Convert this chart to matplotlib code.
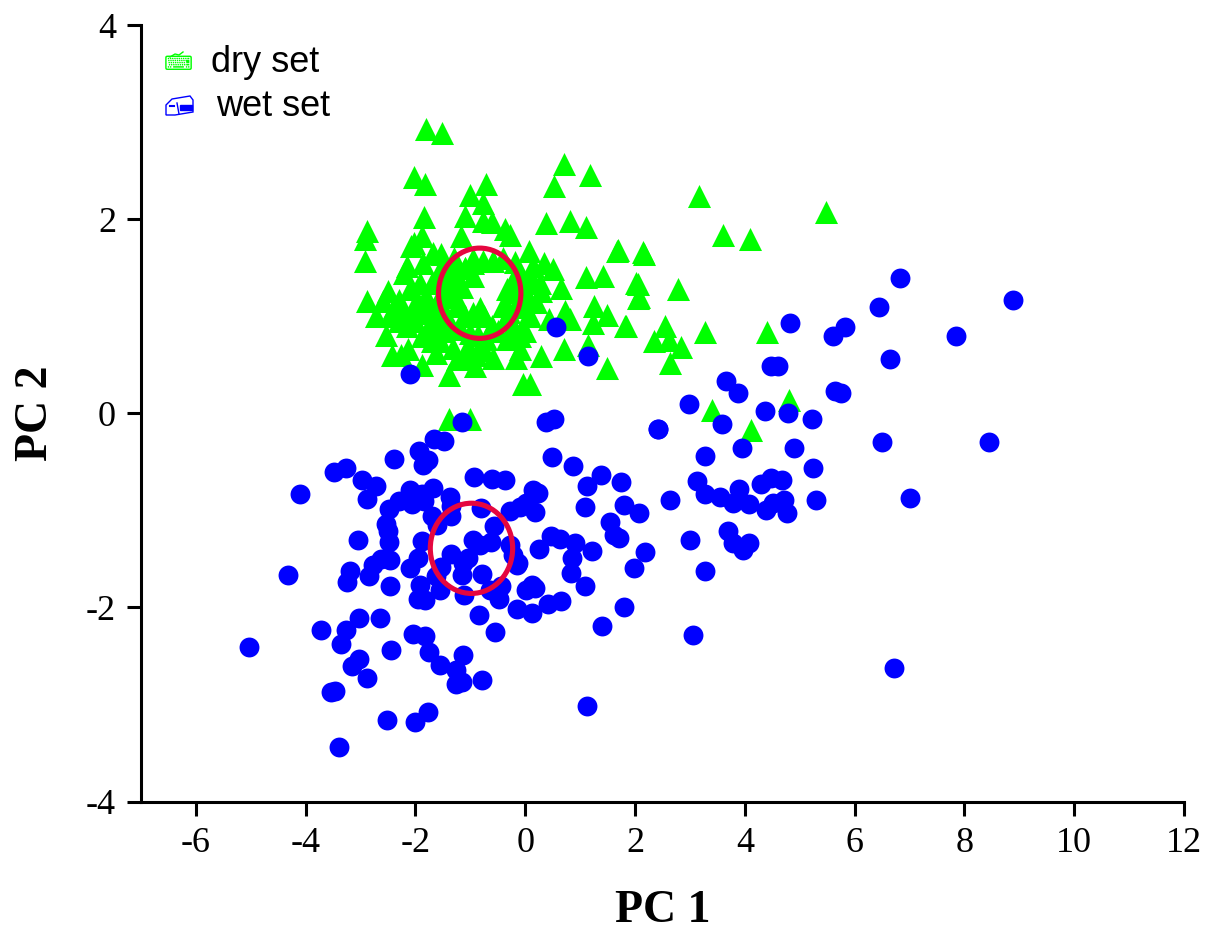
import matplotlib
matplotlib.use("Agg")
import matplotlib.pyplot as plt
from matplotlib.lines import Line2D
from matplotlib.patches import Ellipse, Polygon, Rectangle

plt.rcParams['axes.unicode_minus'] = False
plt.rcParams['font.family'] = ['Liberation Serif', 'DejaVu Serif']

# dry set (PC 1, PC 2)
dry_x = [-1.81, -1.52, 0.706, 1.18, 0.52, -2.03, -1.83, -0.71, -1.01, -0.77, -1.84, -1.10, -0.77, -0.6,
         -0.375, -0.28, 0.378, 0.81, 1.1, -2.88, -2.92, -2.92, -1.17, -1.89, -2.03, -2.09, 1.69, 0.07,
         2.14, -1.68, -1.53, 0.505, 0.335, 0.14, -0.18, -0.405, -0.59, -0.77, -0.95, 1.11, 1.415, 0.66,
         2.02, 2.05, -2.15, -2.2, -1.86, -1.56, -1.25, -0.95, -0.34, -0.41, 0.26, 0.29, 0.02, -0.04,
         0.08, -0.83, -0.95, -1.25, -1.285, -2.89, -2.5, -2.59, -2.71, -2.47, -2.3, -2.1, -1.92, -1.8,
         -1.98, -1.68, -1.86, -2.16, -2.53, -1.89, -1.65, -1.44, -1.315, -1.01, -0.86, -0.34, -0.22,
         0.05, 0.44, 0.72, 0.81, 1.26, 1.48, 1.23, 1.81, 0.7, 1.14, 1.49, 0.28, -0.1, -0.16, -0.59,
         -0.71, -0.34, -1.04, -1.315, -1.62, -1.04, -1.25, -0.92, -1.39, -2.13, -2.26, -2.43, -1.89,
         -0.04, 0.08, 3.16, 5.47, 3.61, 4.1, 1.68, 2.16, 2.05, 2.07, 2.78, 1.83, 2.54, 3.28, 4.41,
         2.34, 2.61, 2.83, 2.63, 4.81, 3.41, 4.12, -1.39, -1.01, -1.4, -1.5, -1.6, -1.75, -1.45, -1.1,
         -1.15, -0.2, -0.1, -0.3, -0.2, -1.55, -2.0, -1.7, -1.55, -1.2, -0.6,
         -2.4, -2.2, -2.0, -1.8, -1.6, -1.4, -1.7, -1.5, -2.0, -1.75, -1.5, -1.35, -1.2, -1.1, -0.75,
         0.2, 0.15, -0.1, -0.2, -0.15, 0.1, -0.5, -0.75, -0.9, 0.0, -0.1, -2.3, -1.1, -0.95, -1.3]
dry_y = [2.935, 2.89, 2.574, 2.46, 2.344, 2.44, 2.37, 2.364, 2.254, 2.17, 2.027, 2.034, 1.983, 1.972,
         1.907, 1.845, 1.966, 1.98, 1.924, 1.88, 1.794, 1.577, 1.835, 1.835, 1.76, 1.73, 1.69, 1.674,
         1.66, 1.656, 1.64, 1.49, 1.553, 1.52, 1.56, 1.605, 1.57, 1.57, 1.59, 1.405, 1.416, 1.295,
         1.347, 1.19, 1.52, 1.45, 1.553, 1.484, 1.416, 1.416, 1.28, 1.107, 1.347, 1.26, 1.244, 1.107,
         1.003, 1.09, 1.04, 1.107, 1.21, 1.158, 1.26, 1.158, 1.003, 1.003, 1.175, 1.28, 1.347, 1.21,
         1.175, 1.07, 1.04, 0.9, 0.814, 0.797, 0.883, 1.003, 0.866, 0.83, 0.814, 0.986, 0.9,
         1.0, 0.97, 1.055, 0.97, 1.106, 1.02, 0.935, 0.9, 0.66, 0.71, 0.47, 0.59, 0.66, 0.574, 0.574,
         0.763, 0.763, 0.694, 0.677, 0.625, 0.574, 0.557, 0.488, 0.392, 0.66, 0.608, 0.6, 0.495,
         0.299, 0.299, 2.24, 2.08, 1.845, 1.80, 1.68, 1.64, 1.33, 1.2, 1.28, 0.9, 0.9, 0.845, 0.845,
         0.75, 0.76, 0.69, 0.525, 0.14, 0.04, -0.165, -0.06, -0.06, 1.3, 1.2, 1.4, 1.1, 0.9, 1.5,
         1.3, 1.4, 1.2, 1.05, 0.85, 1.15, 1.05, 0.75, 0.75, 0.9, 0.9,
         1.1, 1.05, 1.05, 1.05, 1.15, 1.2, 1.35, 1.35, 0.95, 0.9, 0.85, 1.5, 1.3, 1.0, 1.0,
         1.15, 1.35, 1.4, 1.25, 1.1, 1.4, 0.85, 0.65, 0.6, 0.85, 0.8, 0.95, 1.5, 1.55, 1.6]

# wet set (PC 1, PC 2)
wet_x = [-1.16, 0.37, 0.52, 2.42, -1.66, -1.48, -1.93, -2.39, -1.77, -1.87, -3.48, -3.27, -2.98, -2.72,
         -2.88, 0.49, 0.876, 1.385, 1.13, 1.75, 1.09, 1.80, 2.07, -0.94, -0.6, -0.374, 0.148, 0.233,
         0.02, -0.1, -0.277, 0.178, -0.805, -1.363, -1.35, -1.68, -2.1, -1.89, -1.84, -2.06, -2.3, -2.49,
         -1.7, -1.36, -1.6, -2.53, -2.5, -2.486, -3.04, -1.88, -0.57, -0.945, -0.63, -0.83, -0.28, -0.22,
         -0.13, -0.15, -1.35, -1.04, -1.13, -1.54, -1.15, -0.78, -1.63, -1.96, -2.1, -2.47, -2.62, -2.77,
         -2.85, -3.2, -3.24, -2.46, -1.92, -1.96, -1.83, -1.545, -1.11, -0.45, -0.65, -0.48, 0.25, 0.463,
         0.627, 0.906, 1.216, 0.858, 0.827, 1.088, 1.55, 1.61, 1.707, 2.186, 1.98, 0.02, 0.117, 0.172,
         -0.144, 0.13, 0.415, 0.645, -0.84, -0.55, 1.79, 1.39, -3.72, -3.03, -2.64, -3.26, -3.35, -2.44,
         -2.05, -1.83, -1.75, -1.56, -1.14, -1.26, -1.27, -1.16, -0.78, -3.03, -3.15, -2.88, -3.54, -3.475,
         -1.77, -2.0, -2.52, -3.39, 1.13,
         -5.03, -4.32, -4.11, 0.555, 1.15, -2.1, 8.89, 6.83, 6.45, 7.85, 6.65, 5.83, 5.61, 4.83, 4.48,
         4.61, 5.65, 5.76, 3.65, 3.87, 2.99, 4.375, 4.78, 5.23, 3.59, 2.41, 6.49, 8.44, 3.94, 4.9, 3.27,
         5.25, 4.48, 4.68, 4.3, 3.12, 3.9, 3.27, 3.54, 2.63, 3.78, 4.07, 4.52, 4.72, 4.39, 4.76, 5.3,
         7.0, 3.7, 3.78, 4.08, 3.97, 3.01, 3.27, 3.05, 6.71]
wet_y = [-0.083, -0.083, -0.055, -0.158, -0.26, -0.286, -0.39, -0.47, -0.48, -0.53, -0.605, -0.56, -0.684,
         -0.743, -0.877, -0.444, -0.54, -0.633, -0.743, -0.71, -0.96, -0.942, -1.03, -0.657, -0.677, -0.69,
         -0.784, -0.818, -0.92, -0.966, -1.007, -1.02, -0.97, -0.863, -0.95, -0.77, -0.79, -0.83, -0.904,
         -0.932, -0.897, -0.983, -1.052, -1.052, -1.145, -1.138, -1.207, -1.32, -1.3, -1.313, -1.155, -1.306,
         -1.323, -1.36, -1.358, -1.454, -1.54, -1.567, -1.444, -1.488, -1.54, -1.585, -1.667, -1.653, -1.674,
         -1.49, -1.588, -1.512, -1.505, -1.564, -1.68, -1.626, -1.732, -1.774, -1.763, -1.908, -1.925, -1.82,
         -1.866, -1.774, -1.82, -1.908, -1.399, -1.258, -1.292, -1.334, -1.416, -1.488, -1.643, -1.774,
         -1.114, -1.248, -1.286, -1.426, -1.588, -1.82, -1.763, -1.8, -2.014, -2.055, -1.963, -1.932, -2.08,
         -2.251, -1.994, -2.193, -2.23, -2.11, -2.107, -2.23, -2.38, -2.44, -2.275, -2.296, -2.454, -2.59,
         -2.485, -2.646, -2.784, -2.77, -2.743, -2.53, -2.6, -2.725, -2.87, -2.863, -3.076, -3.176, -3.162,
         -3.437, -3.014,
         -2.41, -1.66, -0.835, 0.887, 0.588, 0.41, 1.165, 1.40, 1.10, 0.804, 0.557, 0.887, 0.794, 0.928,
         0.485, 0.485, 0.237, 0.216, 0.34, 0.216, 0.093, 0.03, 0.0, -0.06, -0.113, -0.155, -0.29, -0.29,
         -0.36, -0.36, -0.44, -0.567, -0.66, -0.69, -0.73, -0.70, -0.78, -0.835, -0.856, -0.887, -0.918,
         -0.938, -0.918, -0.887, -0.99, -1.03, -0.887, -0.876, -1.216, -1.33, -1.33, -1.41, -1.3, -1.62,
         -2.28, -2.62]

# red mean ellipses: centre x, centre y, width, height
ellipse_x = [-0.83, -0.98]
ellipse_y = [1.24, -1.39]
ellipse_w = [1.5, 1.5]
ellipse_h = [0.93, 0.93]

x_ticks = [-6, -4, -2, 0, 2, 4, 6, 8, 10, 12]
y_ticks = [-4, -2, 0, 2, 4]

fig = plt.figure(figsize=(12.07, 9.31), dpi=100)
ax = fig.add_axes([141 / 1207, 1 - 801.5 / 931, (1184 - 141) / 1207, (801.5 - 25.5) / 931])

ax.scatter(dry_x, dry_y, marker='^', s=275, color='#00FF00', linewidths=0, clip_on=False, zorder=2)
ax.scatter(wet_x, wet_y, marker='o', s=205, color='#0000FF', linewidths=0, clip_on=False, zorder=3)

for cx, cy, w, h in zip(ellipse_x, ellipse_y, ellipse_w, ellipse_h):
    ax.add_patch(Ellipse((cx, cy), w, h, fill=False, edgecolor='#E5063F', linewidth=3.7, zorder=4))

ax.set_xlim(-7, 12)
ax.set_ylim(-4, 4)
ax.set_xticks(x_ticks)
ax.set_yticks(y_ticks)
ax.spines['top'].set_visible(False)
ax.spines['right'].set_visible(False)
ax.spines['left'].set_linewidth(2.2)
ax.spines['bottom'].set_linewidth(2.2)
ax.tick_params(axis='both', width=2.2, length=10, labelsize=26, pad=8)
ax.set_xlabel('PC 1', fontsize=33, fontweight='bold', labelpad=22)
ax.set_ylabel('PC 2', fontsize=33, fontweight='bold', labelpad=21)

# legend, drawn by hand because the icons are dingbat glyphs
def px(x, y):
    return x / 1207, 1 - y / 931

fig.text(*px(211, 62), 'dry set', family='Liberation Sans', fontsize=26, va='center')
fig.text(*px(216, 107), 'wet set', family='Liberation Sans', fontsize=26, va='center')
fig.text(*px(178, 65), '\u2328', family='DejaVu Sans', fontsize=14.5, color='#00FF00', ha='center', va='center')

green = '#00FF00'
blue = '#0000FF'
fig.add_artist(Line2D(*zip(px(170, 57), px(175, 54), px(179, 55), px(183, 52)), color=green, linewidth=1,
                      transform=fig.transFigure))
fig.add_artist(Polygon([px(166, 115), px(166, 105), px(172, 99), px(190, 96), px(193, 100),
                        px(193, 112), px(175, 115)], closed=True, fill=False, edgecolor=blue,
                       linewidth=1, transform=fig.transFigure))
fig.add_artist(Line2D(*zip(px(177, 103), px(179, 114)), color=blue, linewidth=1, transform=fig.transFigure))
fig.add_artist(Line2D(*zip(px(170, 106), px(174, 106)), color=blue, linewidth=1.5, transform=fig.transFigure))
fig.add_artist(Rectangle(px(180, 110), 12 / 1207, 5 / 931, color=blue, transform=fig.transFigure))

fig.savefig('out.png', dpi=100)
